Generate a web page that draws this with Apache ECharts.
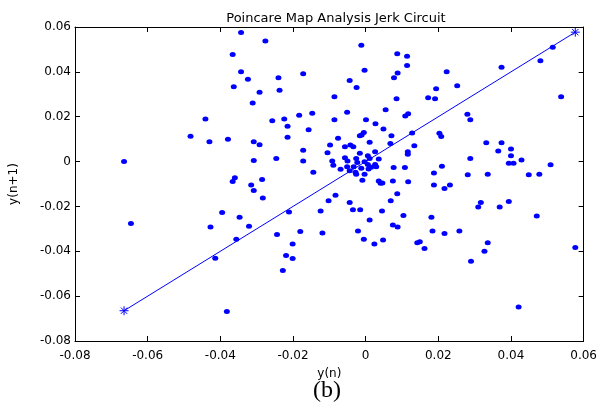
<!DOCTYPE html>
<html>
<head>
<meta charset="utf-8">
<script src="https://cdn.jsdelivr.net/npm/echarts@6/dist/echarts.min.js"></script>
<style>
  html, body { margin: 0; padding: 0; background: #fff; }
  #chart { width: 600px; height: 410px; }
</style>
</head>
<body>
<div id="chart"></div>
<script>
// y(n) values of the Poincare points
const yn = [
  -0.0665, -0.0646, -0.0482, -0.0441, -0.0430, -0.0427, -0.0414, -0.0395, -0.0382, -0.0379,
  -0.0366, -0.0363, -0.0343, -0.0343, -0.0324, -0.0366, -0.0360, -0.0347, -0.0356, -0.0321,
  -0.0315, -0.0308, -0.0285, -0.0283, -0.0276, -0.0292, -0.0311, -0.0308, -0.0292, -0.0308,
  -0.0257, -0.0240, -0.0237, -0.0224, -0.0215, -0.0215, -0.0246, -0.0244, -0.0211, -0.0201,
  -0.0219, -0.0201, -0.0228, -0.0183, -0.0172, -0.0172, -0.0172, -0.0157, -0.0147, -0.0180,
  -0.0144, -0.0124, -0.0119, -0.0102, -0.0083, -0.0086, -0.0086, -0.0051, -0.0044, -0.0025,
  -0.0012, -0.0003, -0.0076, -0.0098, -0.0105, -0.0092, -0.0089, -0.0069, -0.0057, -0.0042,
  -0.0034, -0.0057, -0.0050, -0.0044, -0.0033, -0.0026, -0.0023, -0.0026, -0.0016, -0.0016,
  -0.0011, -0.0005, -0.0012, -0.0003, -0.0003, -0.0009, 0.0006, 0.0011, 0.0011, 0.0006,
  0.0015, 0.0008, 0.0026, 0.0026, 0.0029, 0.0036, 0.0001, 0.0027, 0.0049, 0.0068,
  0.0071, 0.0036, 0.0041, 0.0046, 0.0075, 0.0077, 0.0108, 0.0117, 0.0116, 0.0116,
  0.0134, 0.0128, 0.0055, 0.0085, 0.0078, 0.0087, 0.0114, 0.0114, 0.0088, 0.0109,
  0.0117, 0.0223, 0.0252, 0.0194, 0.0172, 0.0191, 0.0374, 0.0481, 0.0515, 0.0538,
  0.0280, 0.0288, 0.0203, 0.0208, 0.0332, 0.0374, 0.0365, 0.0400, 0.0400, 0.0288,
  0.0429, 0.0394, 0.0407, 0.0509, 0.0210, 0.0188, 0.0188, 0.0087, 0.0217, 0.0232,
  0.0281, 0.0336, 0.0449, 0.0478, 0.0104, 0.0088, 0.0075, 0.0181, 0.0184, 0.0217,
  0.0258, 0.0310, 0.0317, 0.0369, 0.0394, 0.0471, 0.0142, 0.0149, 0.0162, 0.0336,
  0.0327, 0.0290, 0.0577, 0.0421, 0.0069, 0.0045, 0.0011, 0.0048, 0.0024, -0.0005,
  -0.0021, -0.0044, -0.0035, -0.0015, -0.0051, -0.0028
];
// y(n+1) values, same order
const yn1 = [
  0.0000, -0.0276, 0.0113, 0.0190, 0.0088, -0.0292, -0.0431, -0.0227, -0.0669, 0.0100,
  0.0477, 0.0334, 0.0575, 0.0400, 0.0367, -0.0089, -0.0072, -0.0248, -0.0346, -0.0288,
  -0.0105, -0.0129, -0.0080, -0.0162, 0.0538, 0.0309, 0.0261, 0.0088, 0.0075, 0.0005,
  0.0182, 0.0374, 0.0318, 0.0190, 0.0157, 0.0108, 0.0014, -0.0325, -0.0225, -0.0367,
  -0.0419, -0.0432, -0.0486, 0.0206, 0.0392, 0.0051, 0.0002, 0.0142, 0.0215, -0.0312,
  -0.0048, -0.0220, -0.0318, -0.0175, -0.0150, 0.0289, 0.0187, 0.0220, 0.0362, 0.0330,
  0.0519, 0.0407, 0.0104, 0.0074, 0.0039, 0.0002, -0.0016, -0.0034, 0.0066, 0.0074,
  0.0066, 0.0017, 0.0002, -0.0041, -0.0023, -0.0056, -0.0004, 0.0014, 0.0037, 0.0115,
  0.0118, 0.0130, -0.0030, -0.0001, -0.0057, -0.0083, 0.0026, 0.0014, 0.0086, -0.0013,
  -0.0025, -0.0033, 0.0044, -0.0013, -0.0023, 0.0011, 0.0187, 0.0169, 0.0145, 0.0081,
  0.0115, -0.0087, -0.0097, -0.0095, -0.0087, -0.0026, -0.0026, -0.0090, 0.0044, 0.0033,
  0.0071, 0.0127, 0.0231, 0.0280, 0.0374, 0.0481, 0.0470, 0.0428, 0.0395, 0.0203,
  0.0213, 0.0400, 0.0338, 0.0325, 0.0285, 0.0280, 0.0420, 0.0449, 0.0510, 0.0289,
  0.0211, 0.0187, 0.0126, 0.0112, 0.0084, 0.0084, 0.0047, 0.0056, 0.0026, 0.0014,
  0.0007, -0.0007, -0.0007, -0.0014, -0.0021, -0.0051, -0.0105, -0.0144, -0.0120, -0.0105,
  -0.0059, -0.0056, -0.0059, -0.0056, -0.0240, -0.0292, -0.0283, -0.0248, -0.0309, -0.0321,
  -0.0309, -0.0203, -0.0182, -0.0203, -0.0178, -0.0243, -0.0362, -0.0358, -0.0388, -0.0362,
  -0.0400, -0.0444, -0.0383, -0.0648, -0.0175, -0.0220, -0.0260, -0.0350, -0.0367, -0.0346,
  -0.0309, -0.0182, -0.0215, -0.0215, -0.0023, -0.0048
];

const axisMin = -0.08;
const axisMax = 0.06;
const axisStep = 0.02;
const xTickLabels = ["-0.08", "-0.06", "-0.04", "-0.02", "0", "0.02", "0.04", "0.06"];
const yTickLabels = ["-0.08", "-0.06", "-0.04", "-0.02", "0", "0.02", "0.04", "0.06"];

const blue = "#0000ff";
const font = "DejaVu Sans";

// diagonal y(n+1) = y(n) across the data range
const lo = Math.min(...yn);
const hi = Math.max(...yn);

const points = yn.map((v, i) => [v, yn1[i]]);

const tickIndex = (v) => Math.round((v - axisMin) / axisStep);

const frameAxis = (extra) => Object.assign({
  type: "value",
  min: axisMin,
  max: axisMax,
  interval: axisStep,
  splitLine: { show: false },
  axisLine: { show: true, onZero: false, lineStyle: { color: "#000", width: 1 } },
  axisTick: { show: true, inside: true, length: 5, lineStyle: { color: "#000" } },
}, extra);

const chart = echarts.init(document.getElementById("chart"));
chart.setOption({
  animation: false,
  backgroundColor: "#fff",
  title: {
    text: "Poincare Map Analysis Jerk Circuit",
    left: 331,
    top: 7,
    textAlign: "center",
    textStyle: { fontFamily: font, fontSize: 13, fontWeight: "normal", color: "#000" },
  },
  grid: { left: 75, right: 13, top: 27, bottom: 69 },
  xAxis: [
    frameAxis({
      position: "bottom",
      name: "y(n)",
      nameLocation: "middle",
      nameGap: 27,
      nameTextStyle: { fontFamily: font, fontSize: 12, color: "#000" },
      axisLabel: {
        margin: 9,
        fontFamily: font,
        fontSize: 12,
        color: "#000",
        formatter: (v) => xTickLabels[tickIndex(v)],
      },
    }),
    frameAxis({ position: "top", axisLabel: { show: false } }),
  ],
  yAxis: [
    frameAxis({
      position: "left",
      name: "y(n+1)",
      nameLocation: "middle",
      nameGap: 55,
      nameTextStyle: { fontFamily: font, fontSize: 12, color: "#000" },
      axisLabel: {
        margin: 4,
        fontFamily: font,
        fontSize: 12,
        color: "#000",
        formatter: (v) => yTickLabels[tickIndex(v)],
      },
    }),
    frameAxis({ position: "right", axisLabel: { show: false } }),
  ],
  graphic: [
    {
      type: "text",
      left: 313,
      top: 379,
      style: { text: "(b)", fontFamily: "Liberation Serif", fontSize: 24, fill: "#000" },
    },
  ],
  series: [
    {
      type: "scatter",
      data: points,
      symbol: "circle",
      symbolSize: [6, 5],
      itemStyle: { color: blue, opacity: 1 },
      z: 2,
    },
    {
      type: "line",
      data: [[lo, lo], [hi, hi]],
      symbol: "path://M0,5L10,5M5,0L5,10M1.5,1.5L8.5,8.5M8.5,1.5L1.5,8.5",
      symbolSize: 9,
      showSymbol: true,
      lineStyle: { color: blue, width: 1 },
      itemStyle: { color: blue, borderColor: blue, borderWidth: 1 },
      z: 3,
    },
  ],
});
</script>
</body>
</html>
